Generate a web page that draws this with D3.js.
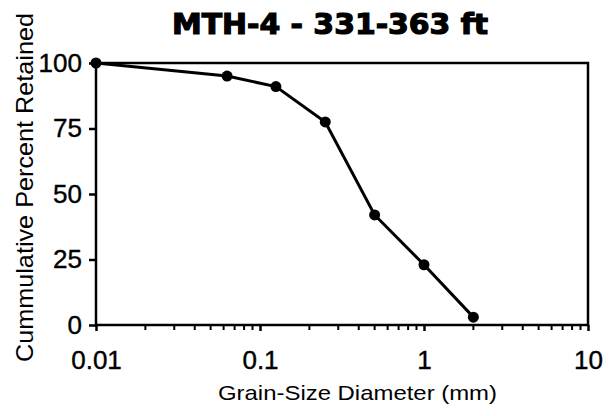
<!DOCTYPE html>
<html>
<head>
<meta charset="utf-8">
<script src="https://cdn.jsdelivr.net/npm/d3@7"></script>
<style>
  body { margin: 0; background: #fff; }
  svg { display: block; font-family: "Liberation Sans", Arial, sans-serif; }
</style>
</head>
<body>
<svg width="612" height="416"></svg>
<script>
var grainSize = [0.01, 0.063, 0.125, 0.25, 0.5, 1, 2];
var percentRetained = [100, 95, 91, 77.5, 42, 23, 3];
var yTicks = [0, 25, 50, 75, 100];
var xTicks = [0.01, 0.1, 1, 10];
var xTickLabels = ["0.01", "0.1", "1", "10"];

draw_chart = function()
{
  var svg = d3.select("svg"),
      mLeft = 96, mRight = 588, mTop = 63, mBottom = 325;

  var x = d3.scaleLog().domain([0.01, 10]).range([mLeft, mRight]);
  var y = d3.scaleLinear().domain([0, 100]).range([mBottom, mTop]);

  // frame
  svg.append("rect")
     .attr("x", mLeft).attr("y", mTop)
     .attr("width", mRight - mLeft).attr("height", mBottom - mTop)
     .style("fill", "none").style("stroke", "black").style("stroke-width", 2.5);

  // minor ticks along the bottom
  var minor = [];
  [0.01, 0.1, 1].forEach(function(d) {
    for (var k = 2; k <= 9; k++) minor.push(d * k);
  });
  svg.append("g").selectAll("line").data(minor).enter().append("line")
     .attr("x1", function(d) { return x(d); })
     .attr("x2", function(d) { return x(d); })
     .attr("y1", mBottom).attr("y2", mBottom + 5)
     .style("stroke", "black").style("stroke-width", 2);

  // x axis
  var xAxis = d3.axisBottom(x).tickValues(xTicks)
     .tickFormat(function(d, i) { return xTickLabels[i]; })
     .tickSize(6).tickPadding(20);
  var gx = svg.append("g").attr("transform", "translate(0," + mBottom + ")").call(xAxis);
  gx.select(".domain").remove();
  gx.selectAll("line").style("stroke-width", 2.5);
  gx.selectAll("text").style("font-size", "26px").style("fill", "black")
    .style("stroke", "black").style("stroke-width", 0.4);

  // y axis
  var yAxis = d3.axisLeft(y).tickValues(yTicks).tickSize(7).tickPadding(7);
  var gy = svg.append("g").attr("transform", "translate(" + mLeft + ",0)").call(yAxis);
  gy.select(".domain").remove();
  gy.selectAll("line").style("stroke-width", 2.5);
  gy.selectAll("text").style("font-size", "26px").style("fill", "black")
    .style("stroke", "black").style("stroke-width", 0.4);

  // data line + points
  var pts = grainSize.map(function(d, i) { return [d, percentRetained[i]]; });
  var line = d3.line()
     .x(function(d) { return x(d[0]); })
     .y(function(d) { return y(d[1]); });

  svg.append("path").datum(pts)
     .attr("d", line)
     .style("fill", "none").style("stroke", "black").style("stroke-width", 3);

  svg.append("g").selectAll("circle").data(pts).enter().append("circle")
     .attr("cx", function(d) { return x(d[0]); })
     .attr("cy", function(d) { return y(d[1]); })
     .attr("r", 5.5)
     .style("fill", "black");

  // title
  svg.append("text")
     .attr("x", 172).attr("y", 34)
     .attr("textLength", 316).attr("lengthAdjust", "spacingAndGlyphs")
     .style("font-family", "'DejaVu Sans', sans-serif")
     .style("font-size", "28px").style("font-weight", "bold")
     .style("stroke", "black").style("stroke-width", 1.2)
     .text("MTH-4 - 331-363 ft");

  // axis titles
  svg.append("text")
     .attr("x", 218).attr("y", 400)
     .attr("textLength", 279).attr("lengthAdjust", "spacingAndGlyphs")
     .style("font-size", "21px")
     .text("Grain-Size Diameter (mm)");

  svg.append("text")
     .attr("transform", "translate(33,362) rotate(-90)")
     .attr("textLength", 349).attr("lengthAdjust", "spacingAndGlyphs")
     .style("font-size", "24px")
     .text("Cummulative Percent Retained");
}
draw_chart();
</script>
</body>
</html>
